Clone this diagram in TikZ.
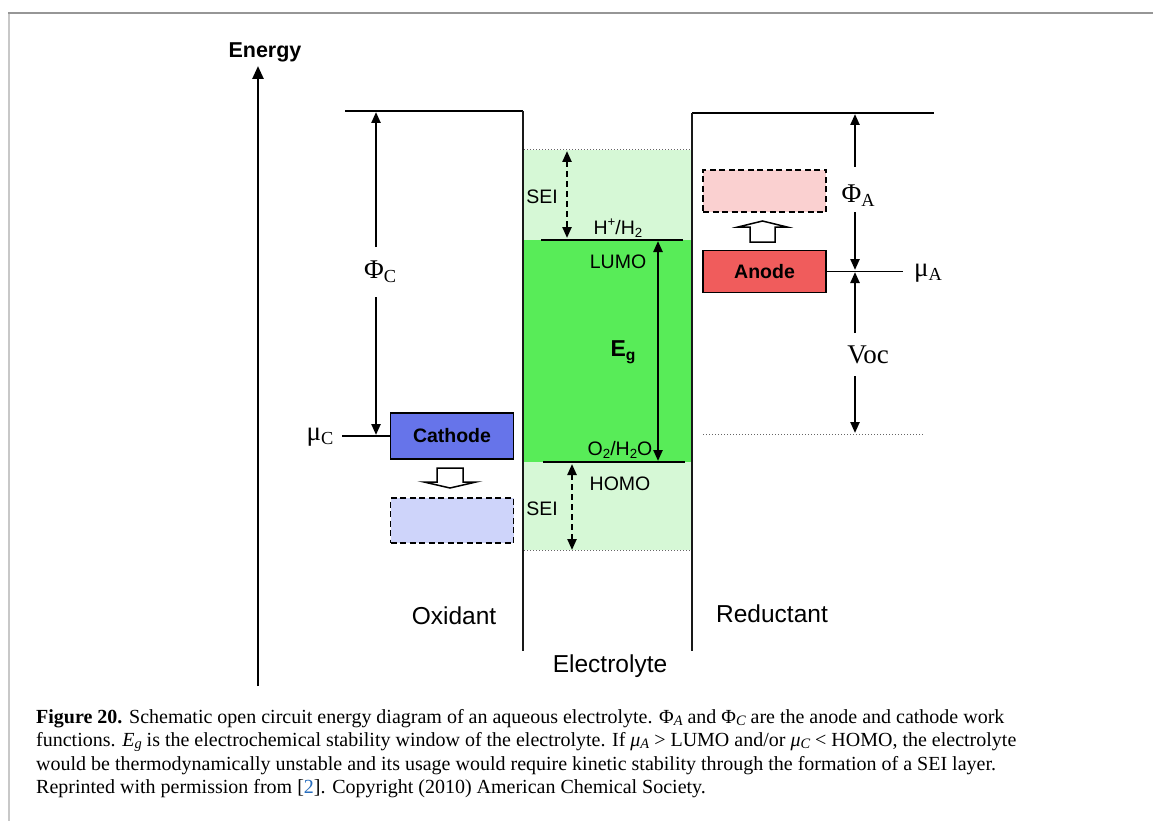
\documentclass[tikz,border=0pt]{standalone}
\usepackage{fontspec}
\setmainfont{Liberation Serif}
\newfontfamily\arial{Liberation Sans}
\usetikzlibrary{arrows.meta}
\definecolor{gmain}{RGB}{88,236,88}
\definecolor{glight}{RGB}{214,248,214}
\definecolor{cblue}{RGB}{102,116,234}
\definecolor{cbluel}{RGB}{206,212,250}
\definecolor{ared}{RGB}{240,92,92}
\definecolor{aredl}{RGB}{250,208,208}
\definecolor{fgray}{RGB}{150,150,150}
\definecolor{fgrayl}{RGB}{200,200,200}
\definecolor{linkblue}{RGB}{40,110,190}
\newcommand\lsub[1]{\raisebox{-0.3ex}{\scalebox{0.68}{#1}}}
\newcommand\lsup[1]{\raisebox{0.75ex}{\scalebox{0.68}{#1}}}
\newcommand\csub[1]{\raisebox{-0.25ex}{\scalebox{0.72}{\itshape #1}}}
\begin{document}
\begin{tikzpicture}[x=1pt,y=-1pt,
  lbl/.style={font=\arial\fontsize{19.5}{21}\selectfont, inner sep=0},
  big/.style={font=\arial\fontsize{24.5}{26}\selectfont, inner sep=0},
  greek/.style={font=\fontsize{27}{29}\selectfont, inner sep=0},
  tipa/.tip={Triangle[length=11,width=9]},
  arr/.style={line width=2.3, -tipa},
  darr/.style={line width=2.3, tipa-tipa},
  dasharr/.style={line width=2.3, tipa-tipa, dash pattern=on 6 off 4},
  level/.style={line width=2.3},
  wall/.style={line width=2, black!90},
  thinl/.style={line width=1.1},
  elec/.style={draw, line width=1.7, minimum width=123, minimum height=44, inner sep=0, font=\arial\bfseries\fontsize{19.5}{21}\selectfont},
  ghost/.style={elec, dash pattern=on 6 off 3.5},
  hollow/.style={draw, fill=white, line width=1.5, line join=miter},
  captxt/.style={anchor=base west, inner sep=0, font=\fontsize{20}{22}\selectfont}
]
\useasboundingbox (0,0) rectangle (1153,821);
\fill[white] (0,0) rectangle (1153,821);
% frame
\draw[fgrayl, line width=2] (8.5,13) -- (8.5,821);
\draw[fgray, line width=1.5] (8,13) -- (1153,13);

% electrolyte regions
\fill[glight] (524,150) rectangle (691,550);
\fill[gmain] (524,240) rectangle (691,462);
\draw[black!60, dotted, line width=1] (524,150) -- (691,150);
\draw[black!60, dotted, line width=1] (524,550) -- (691,550);

% energy axis
\coordinate (axb) at (258,686);
\coordinate (axt) at (258,66);
\draw[line width=2.6, -{Triangle[length=13,width=11]}] (axb) -- (axt);
\node[font=\arial\bfseries\fontsize{21.5}{23}\selectfont, inner sep=0] (energy) at (265,52) {Energy};

% walls and vacuum levels
\draw[thinl, line width=1.3] (345,111) -- (523,111);
\draw[wall] (523,111) -- (523,651);
\draw[thinl, line width=1.3] (692,113) -- (934,113);
\draw[wall] (692,113) -- (692,651);

% LUMO / HOMO
\draw[level] (541,240) -- (683,240);
\draw[level] (543,462) -- (685,462);
\node[lbl] (hh) at (618,228) {H\lsup{+}/H\lsub{2}};
\node[lbl] (lumo) at (618,262) {LUMO};
\node[lbl] (o2) at (620,450) {O\lsub{2}/H\lsub{2}O};
\node[lbl] (homo) at (620,484) {HOMO};
\node[font=\arial\bfseries\fontsize{23}{25}\selectfont, inner sep=0] (eg) at (623,352) {E\lsub{g}};
\coordinate (egt) at (658,241);
\coordinate (egb) at (658,461);
\draw[darr] (egt) -- (egb);

% SEI
\node[lbl] (sei1) at (542,197) {SEI};
\node[lbl] (sei2) at (542,509) {SEI};
\coordinate (s1t) at (567,151);
\coordinate (s1b) at (567,238);
\draw[dasharr] (s1t) -- (s1b);
\coordinate (s2t) at (572,464);
\coordinate (s2b) at (572,550);
\draw[dasharr] (s2t) -- (s2b);

% cathode side
\node[elec, fill=cblue, minimum height=46] (cathode) at (452,436) {Cathode};
\node[ghost, fill=cbluel, minimum height=45] (cghost) at (452,520.5) {};
\draw[hollow] (437,468) -- (463,468) -- (463,482) -- (476,482) -- (450,488) -- (424,482) -- (437,482) -- cycle;
\node[greek] (phiC) at (380,272) {Φ\lsub{C}};
\node[greek] (muC) at (320,437) {μ\lsub{C}};
\coordinate (muCl) at (342,436);
\draw[thinl] (muCl) -- (cathode.west);
\coordinate (pCtop) at (376,112);
\coordinate (pCa) at (376,247);
\coordinate (pCb) at (376,297);
\coordinate (pCbot) at (376,435);
\draw[arr] (pCa) -- (pCtop);
\draw[arr] (pCb) -- (pCbot);

% anode side
\node[elec, fill=ared, minimum height=42] (anode) at (764.5,271.5) {Anode};
\node[ghost, fill=aredl, minimum height=42] (aghost) at (764.5,191) {};
\draw[hollow] (750,242) -- (775,242) -- (775,227) -- (787,227) -- (762.5,221) -- (738,227) -- (750,227) -- cycle;
\node[greek] (phiA) at (858,196) {Φ\lsub{A}};
\node[greek] (muA) at (928,273) {μ\lsub{A}};
\coordinate (muAr) at (903,271.5);
\draw[thinl] (anode.east) -- (muAr);
\coordinate (pAtop) at (855,114);
\coordinate (pAa) at (855,167);
\coordinate (pAb) at (855,212);
\coordinate (pAbot) at (855,270);
\draw[arr] (pAa) -- (pAtop);
\draw[arr] (pAb) -- (pAbot);
\node[greek] (voc) at (868,355) {Voc};
\coordinate (vTop) at (855,272);
\coordinate (vA) at (855,333);
\coordinate (vB) at (855,376);
\coordinate (vBot) at (855,433);
\draw[arr] (vA) -- (vTop);
\draw[arr] (vB) -- (vBot);
\draw[black!60, dotted, line width=1] (703,434.5) -- (923,434.5);

% bottom labels
\node[big] (ox) at (454,616) {Oxidant};
\node[big] (red) at (772,614) {Reductant};
\node[big] (el) at (610,666) {Electrolyte};

% caption
\node[captxt] (c1) at (36,723) {\textbf{Figure 20.} Schematic open circuit energy diagram of an aqueous electrolyte. Φ\csub{A} and Φ\csub{C} are the anode and cathode work};
\node[captxt] (c2) at (36,746.5) {functions. \textit{E}\csub{g} is the electrochemical stability window of the electrolyte. If \textit{μ}\csub{A} > LUMO and/or \textit{μ}\csub{C} < HOMO, the electrolyte};
\node[captxt] (c3) at (36,770) {would be thermodynamically unstable and its usage would require kinetic stability through the formation of a SEI layer.};
\node[captxt] (c4) at (36,793.5) {Reprinted with permission from [{\color{linkblue}2}]. Copyright (2010) American Chemical Society.};
\end{tikzpicture}
\end{document}
